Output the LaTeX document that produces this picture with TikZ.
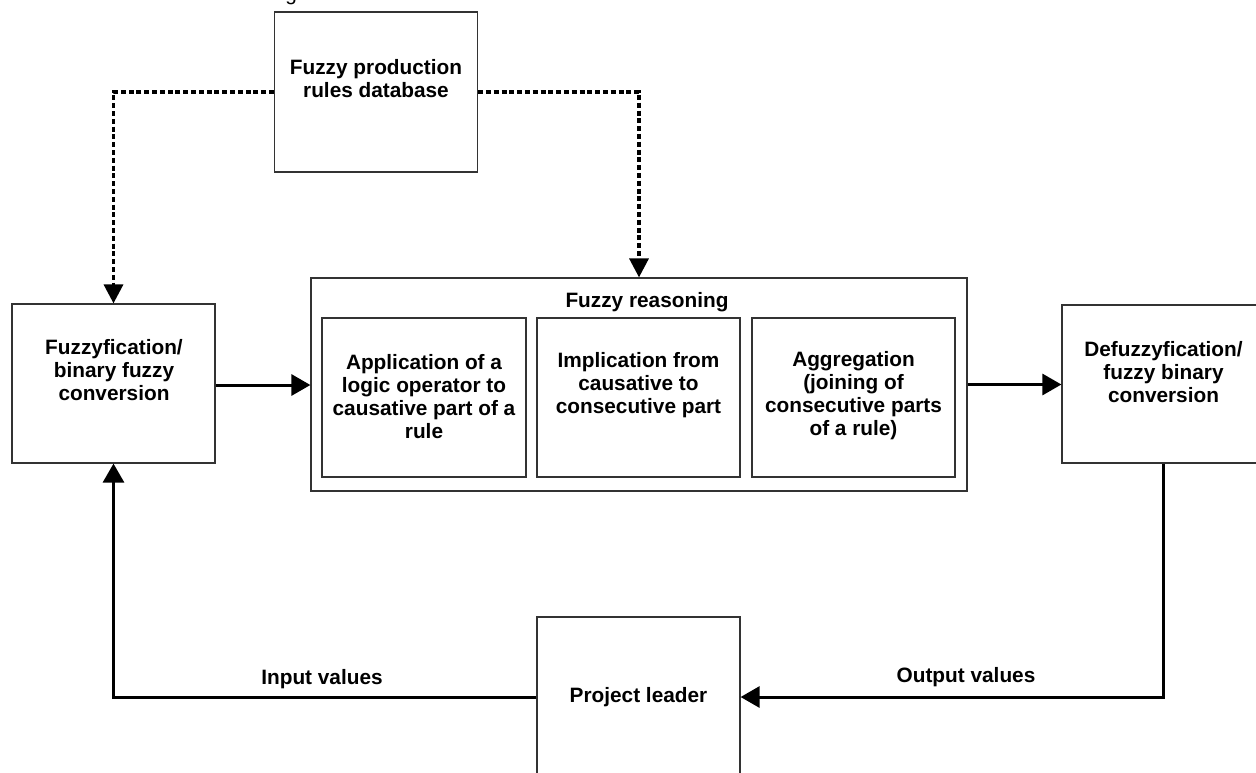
\documentclass[tikz,border=0pt]{standalone}
\usepackage{fontspec}
\setmainfont{Liberation Sans}
\usetikzlibrary{arrows.meta,calc}

\tikzset{
  box/.style={draw=black!80, line width=0.6pt, fill=white, inner sep=0pt},
  txt/.style={font=\bfseries\fontsize{10.4}{11.5}\selectfont, align=center, inner sep=0pt},
  flow/.style={line width=1.5pt, -{Triangle[length=9.5pt,width=10.5pt]}},
  dotflow/.style={line width=1.7pt, dash pattern=on 2.5pt off 1.4pt,
    -{Triangle[length=9.5pt,width=9.5pt]}},
}

\begin{document}
\begin{tikzpicture}[x=0.5pt,y=-0.5pt]
\useasboundingbox (0,0) rectangle (1256,772);
\clip (0,0) rectangle (1256,772);

% caption fragment above the figure
\node[anchor=base west, inner sep=0pt, font=\fontsize{10.4}{12}\selectfont] (cap) at (285,0) {g};

% knowledge base
\node[box, minimum width=101.5pt, minimum height=80pt] (db) at (376,92) {};
\node[txt] (dbt) at (376,79) {Fuzzy production\\rules database};

% input conversion
\node[box, minimum width=101.5pt, minimum height=79.5pt] (fz) at (113.5,383.5) {};
\node[txt] (fzt) at (114,370) {Fuzzyfication/\\binary fuzzy\\conversion};

% inference block with its three stages
\node[box, minimum width=328pt, minimum height=106.5pt] (fr) at (639,384.5) {};
\node[txt] (frt) at (647,302) {Fuzzy reasoning};
\node[box, minimum width=102pt, minimum height=79.5pt] (sa) at (424,397.5) {};
\node[txt] (sat) at (424,397) {Application of a\\logic operator to\\causative part of a\\rule};
\node[box, minimum width=101.5pt, minimum height=79.5pt] (sb) at (638.5,397.5) {};
\node[txt] (sbt) at (638.5,385) {Implication from\\causative to\\consecutive part};
\node[box, minimum width=101.5pt, minimum height=79.5pt] (sc) at (853.5,397.5) {};
\node[txt] (sct) at (853.5,396) {Aggregation\\(joining of\\consecutive parts\\of a rule)};

% output conversion
\node[box, minimum width=101.5pt, minimum height=79pt] (df) at (1163.5,384) {};
\node[txt] (dft) at (1163.5,372) {Defuzzyfication/\\fuzzy binary\\conversion};

% decision maker
\node[box, minimum width=101.5pt, minimum height=80pt] (pl) at (638.5,697) {};
\node[txt] (plt) at (638.5,697) {Project leader};

% rule base feeds
\draw[dotflow] (db.west) -| (fz.north);
\draw[dotflow] (db.east) -| (fr.north);

% main signal flow
\draw[flow] ($(fz.east)+(0,1.5)$) -- ($(fz.east -| fr.west)+(0,1.5)$);
\draw[flow] (fr.east) -- (fr.east -| df.west);
\draw[flow] (df.south) |- (pl.east);
\draw[flow] (pl.west) -| (fz.south);

\node[txt] (in) at (322,679) {Input values};
\node[txt] (out) at (966,677) {Output values};
\end{tikzpicture}
\end{document}
